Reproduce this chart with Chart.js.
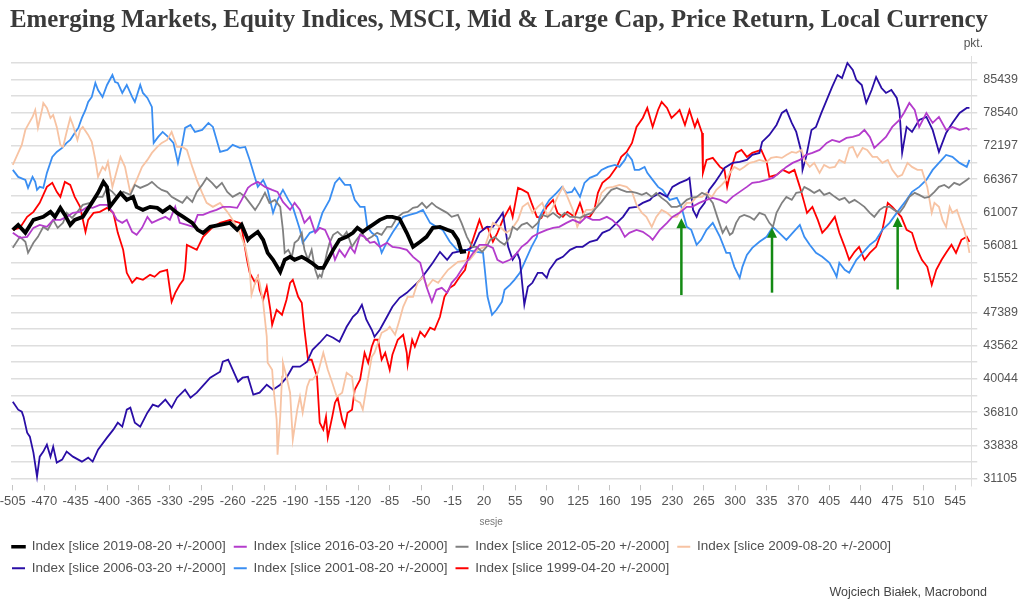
<!DOCTYPE html>
<html>
<head>
<meta charset="utf-8">
<script src="https://cdn.jsdelivr.net/npm/chart.js@4.4.1/dist/chart.umd.min.js"></script>
<style>
  html, body { margin: 0; padding: 0; background: #fff; }
  #wrap { width: 1024px; height: 611px; }
</style>
</head>
<body>
<div id="wrap"><canvas id="chart" width="1024" height="611"></canvas></div>
<script>
// sessions relative to the slice date, index level (pkt.)
const slice2019 = [[-505,58377],[-499,59119],[-491,57937],[-482,59871],[-471,60328],[-463,61095],[-458,60328],[-452,61715],[-447,60632],[-441,59119],[-436,59871],[-427,60328],[-417,62500],[-410,64100],[-404,65907],[-400,65080],[-397,61871],[-391,62975],[-385,64100],[-378,62975],[-371,63456],[-367,61871],[-360,61403],[-352,61871],[-344,61715],[-338,61095],[-330,61871],[-322,60940],[-315,60328],[-305,59420],[-299,58377],[-293,57937],[-285,58821],[-274,59119],[-263,59420],[-255,58377],[-250,59119],[-243,56920],[-241,57210],[-232,58084],[-226,56920],[-221,55080],[-215,54114],[-207,52498],[-202,54114],[-196,54527],[-191,54114],[-183,54527],[-177,54114],[-172,53706],[-165,53031],[-159,53031],[-154,54114],[-148,55499],[-141,56920],[-133,57354],[-126,57937],[-121,58674],[-115,58084],[-109,58674],[-104,59119],[-96,59871],[-88,60328],[-82,60328],[-74,60023],[-66,57937],[-59,55922],[-51,56633],[-44,57354],[-37,58674],[-29,58821],[-21,58377],[-15,58084],[-9,56920],[-5,55217],[0,55300]];

const slice2016 = [[-505,57937],[-497,57210],[-489,57354],[-482,58674],[-475,59119],[-467,58821],[-460,59871],[-452,59871],[-445,60328],[-438,60940],[-430,61095],[-422,61871],[-416,61715],[-408,62184],[-400,62184],[-394,61095],[-389,59871],[-383,59420],[-378,59871],[-372,58084],[-367,57644],[-361,58674],[-355,60328],[-350,59420],[-343,59871],[-335,60328],[-330,59871],[-324,61871],[-319,59420],[-311,59119],[-304,58821],[-299,60632],[-293,60632],[-285,61095],[-278,61403],[-271,61871],[-263,61871],[-255,61715],[-250,62975],[-243,64915],[-239,65408],[-232,65907],[-224,65080],[-216,64587],[-210,64262],[-204,62657],[-196,61403],[-191,62500],[-185,61403],[-180,59420],[-174,60328],[-168,57937],[-163,58674],[-157,58377],[-152,56920],[-146,54114],[-141,55499],[-135,54527],[-129,55922],[-124,55080],[-118,57644],[-113,57354],[-107,56491],[-102,56633],[-96,55922],[-88,56491],[-82,55922],[-74,55780],[-66,55499],[-59,54527],[-51,53706],[-44,50544],[-38,48664],[-33,50162],[-27,50416],[-21,49783],[-16,51058],[-10,51838],[-5,52763],[8,55080],[15,56205],[23,56205],[30,55780],[35,54114],[41,53706],[49,54114],[57,55080],[62,55922],[68,56491],[74,57354],[82,57937],[90,58377],[97,58674],[104,58821],[112,59420],[119,59871],[127,59420],[134,60328],[141,59871],[149,59871],[157,60328],[163,59871],[171,58821],[177,57354],[182,57937],[190,58377],[197,58084],[205,57354],[208,56920],[216,58377],[224,59420],[230,60328],[238,60940],[246,61871],[252,61871],[260,62500],[268,62975],[275,63295],[283,62975],[290,62500],[297,63456],[305,64262],[313,65080],[319,65740],[327,65907],[335,66240],[342,66577],[349,67424],[357,68454],[364,69150],[372,69675],[379,70561],[386,70920],[394,71458],[402,72735],[408,73287],[416,72919],[424,73659],[431,73845],[438,74219],[444,75163],[450,73845],[455,71820],[461,72735],[468,73845],[475,75737],[483,77087],[488,78463],[494,80472],[500,79060],[505,75737],[513,78463],[520,76506],[527,77674],[535,75163],[542,75737],[550,75163],[558,75545],[561,75163]];

const slice2012 = [[-505,55780],[-497,57354],[-491,56633],[-488,55080],[-482,56491],[-477,57354],[-471,58821],[-466,58377],[-460,59871],[-455,58674],[-449,59420],[-445,60940],[-439,60175],[-433,61095],[-427,62184],[-419,62500],[-411,63456],[-405,63456],[-400,64915],[-394,64262],[-389,63456],[-382,64262],[-374,63776],[-369,65408],[-363,64915],[-355,65408],[-350,65907],[-344,65080],[-339,64587],[-333,64262],[-328,63456],[-322,62975],[-316,62500],[-311,63456],[-305,62657],[-300,64262],[-294,65408],[-289,66577],[-283,65740],[-278,64915],[-272,65740],[-266,64262],[-260,63456],[-252,64100],[-246,63456],[-241,62500],[-235,61403],[-230,62500],[-224,64100],[-219,62500],[-213,62975],[-207,61871],[-204,58377],[-202,55080],[-198,55499],[-194,54527],[-191,56491],[-187,56920],[-183,57937],[-180,55499],[-176,54114],[-172,55499],[-168,52763],[-165,51707],[-163,52101],[-161,51838],[-159,52763],[-155,55080],[-152,56491],[-148,57644],[-143,58084],[-137,57354],[-133,58084],[-127,55922],[-122,56920],[-116,57937],[-111,56920],[-105,57354],[-99,57937],[-94,57644],[-88,58821],[-83,58821],[-77,60175],[-70,60940],[-65,61095],[-59,61715],[-54,61871],[-49,62500],[-44,61715],[-38,62500],[-33,61871],[-27,61403],[-21,60940],[-16,60328],[-9,60632],[-5,59420],[1,57354],[7,55922],[12,55922],[18,55217],[23,55922],[27,56920],[32,57354],[38,56633],[43,56205],[49,57354],[52,58821],[57,58377],[62,59119],[68,59420],[74,58674],[80,59420],[85,60632],[91,60328],[97,60940],[104,60175],[110,60940],[116,60328],[121,60328],[127,60175],[134,60632],[140,60940],[146,61871],[151,62657],[157,63776],[162,64587],[168,64915],[173,64587],[179,64262],[185,64262],[190,64100],[196,63776],[201,64100],[207,63456],[212,64100],[218,63295],[224,62657],[229,61871],[235,61871],[240,62184],[246,62975],[251,63295],[257,63456],[263,64100],[268,63776],[275,62500],[280,60328],[286,57937],[290,58821],[294,57644],[297,57937],[301,59420],[305,60328],[310,60632],[316,60328],[321,59871],[327,60940],[333,60632],[338,59420],[342,58821],[346,60940],[352,62500],[357,63456],[363,62975],[368,64100],[374,64262],[377,65080],[383,64587],[388,64100],[394,64587],[399,63776],[405,64100],[411,63456],[416,62975],[422,63295],[427,62500],[433,62975],[438,62500],[444,61871],[450,60940],[455,60328],[461,61403],[466,61871],[472,61871],[477,61403],[483,60940],[488,61871],[494,63456],[500,64100],[505,63776],[511,63295],[516,63456],[522,64262],[527,65080],[533,65408],[538,64915],[544,65740],[550,65408],[558,66240],[561,66577]];

const slice2009 = [[-505,68800],[-499,70920],[-495,72367],[-491,75163],[-488,76119],[-483,77674],[-480,79060],[-477,75545],[-472,79460],[-471,80472],[-467,79460],[-463,77479],[-460,78067],[-456,75737],[-452,72367],[-449,72000],[-445,74785],[-441,77479],[-438,76119],[-433,73287],[-430,75163],[-427,75737],[-421,74219],[-417,72919],[-413,69675],[-410,66744],[-405,68454],[-402,67936],[-399,69325],[-394,65080],[-391,66744],[-385,70206],[-380,68454],[-374,64100],[-367,66240],[-361,68454],[-355,69675],[-350,70920],[-344,72000],[-339,72735],[-333,73287],[-328,74785],[-322,72000],[-316,72000],[-311,71458],[-305,68454],[-300,66240],[-294,64100],[-289,62500],[-282,61871],[-274,62500],[-266,61095],[-260,59871],[-252,57937],[-246,55922],[-243,54114],[-241,52763],[-239,49532],[-235,51058],[-232,51838],[-230,51058],[-226,48541],[-222,44545],[-221,41711],[-216,40979],[-215,39655],[-211,36114],[-210,33057],[-207,36390],[-205,40262],[-204,41711],[-200,40262],[-196,38665],[-193,34334],[-188,37039],[-185,38276],[-182,36760],[-177,39256],[-174,39957],[-171,39957],[-165,40670],[-159,42778],[-154,40979],[-149,39655],[-144,38276],[-138,38665],[-133,40670],[-127,40260],[-124,37987],[-118,37700],[-115,37039],[-110,39655],[-105,42348],[-102,42778],[-98,43874],[-94,44997],[-88,45339],[-85,45685],[-79,44770],[-74,46500],[-70,48053],[-65,49282],[-59,49282],[-54,51058],[-48,51838],[-43,50544],[-37,51446],[-31,51058],[-26,51838],[-20,52763],[-9,53840],[4,54114],[13,55499],[21,55922],[30,59420],[38,58821],[45,57937],[52,58674],[58,59871],[63,61871],[69,62500],[74,60940],[80,61871],[85,62500],[91,60328],[97,61871],[102,63456],[108,65080],[113,63456],[119,61403],[124,58821],[129,60328],[134,61403],[140,61403],[146,61871],[151,64100],[157,64915],[164,65080],[171,65408],[179,65080],[185,64262],[190,62184],[196,60940],[201,60328],[207,58821],[212,60328],[218,61403],[224,60940],[229,60328],[235,60328],[240,61403],[246,62500],[251,62500],[257,63456],[263,63456],[268,64100],[274,63456],[279,64587],[285,65408],[290,66240],[294,67424],[299,68454],[305,67936],[310,68454],[316,69150],[321,69325],[327,69675],[335,69325],[340,70028],[346,70206],[352,70028],[357,70561],[363,71100],[368,70920],[374,71458],[377,69675],[383,68454],[388,69150],[394,67424],[399,68800],[405,68280],[411,68454],[416,69675],[422,69150],[427,71820],[431,72000],[436,70206],[442,71820],[447,71458],[453,70206],[458,70206],[464,69150],[470,69675],[475,67936],[481,66744],[486,67083],[492,69150],[497,68454],[503,67936],[508,67936],[514,65080],[519,60940],[522,62500],[527,61871],[531,59871],[535,58821],[539,61871],[542,60940],[547,61403],[552,59420],[555,58377],[559,56491],[561,55080]];

const slice2006 = [[-505,37795],[-499,37039],[-495,36853],[-493,36390],[-489,34947],[-486,34596],[-482,33225],[-478,31270],[-475,32891],[-471,33309],[-467,33903],[-463,32891],[-460,33733],[-456,32396],[-450,32642],[-445,33309],[-438,32891],[-428,32478],[-421,32808],[-416,32478],[-410,33477],[-400,34509],[-393,35213],[-388,35842],[-383,35480],[-378,37039],[-374,37226],[-369,35842],[-363,35480],[-355,36760],[-349,37510],[-343,37320],[-335,37987],[-328,37226],[-322,38180],[-313,38959],[-307,38180],[-300,38665],[-294,39256],[-285,40160],[-274,40773],[-271,41817],[-265,42028],[-260,40979],[-254,39756],[-249,40160],[-243,40262],[-237,38470],[-230,38665],[-222,39455],[-215,38959],[-207,39455],[-200,40160],[-193,41292],[-185,41292],[-177,41817],[-171,43104],[-163,43874],[-155,44770],[-148,44432],[-141,43985],[-133,45685],[-126,46853],[-121,47330],[-116,48296],[-111,46500],[-105,45339],[-102,44545],[-96,45339],[-88,46853],[-82,48053],[-74,49158],[-66,49783],[-59,50544],[-51,51446],[-37,53706],[-29,55217],[-21,54114],[-15,55080],[1,55499],[8,55922],[15,57937],[23,58821],[30,58821],[38,60328],[41,60940],[47,55922],[52,54114],[57,55080],[60,54114],[65,48296],[69,50544],[74,51058],[80,52365],[85,52365],[90,51707],[93,52763],[101,54114],[108,54527],[116,55499],[123,55922],[130,55922],[138,56633],[146,56920],[152,57937],[160,58377],[168,59420],[175,60328],[182,61715],[190,61871],[197,62500],[205,62975],[208,63456],[216,64100],[224,63456],[230,65080],[238,65740],[246,66240],[249,66577],[253,61403],[257,60328],[260,61403],[266,62500],[271,64587],[277,65740],[283,67083],[288,68280],[297,69150],[305,69325],[313,69675],[319,70561],[327,70920],[330,72919],[338,74219],[346,76119],[352,78463],[357,79060],[363,76506],[368,74785],[374,70920],[375,67936],[379,70206],[385,75163],[390,75737],[396,78463],[402,81084],[408,83794],[414,86373],[419,85720],[425,89035],[431,87472],[435,85288],[441,84217],[446,80472],[452,83159],[457,85936],[463,83580],[468,82532],[474,83159],[480,81496],[483,79060],[486,70920],[491,75737],[497,74785],[505,77087],[513,77674],[520,75163],[527,71100],[535,74597],[542,76506],[550,78463],[558,79460],[561,79460]];

const slice2001 = [[-505,67936],[-499,66744],[-491,66240],[-488,64915],[-483,66744],[-480,65907],[-478,64587],[-475,65080],[-471,64915],[-467,67424],[-461,70206],[-456,71100],[-450,71820],[-445,72735],[-441,73287],[-436,74597],[-432,75545],[-428,77479],[-424,79060],[-421,80677],[-417,81702],[-413,84645],[-410,83159],[-405,81702],[-400,84217],[-394,86373],[-391,84860],[-388,84645],[-383,82532],[-378,84217],[-372,81702],[-369,80677],[-363,84217],[-360,82532],[-355,81496],[-350,79664],[-348,72735],[-343,73845],[-338,74785],[-332,73845],[-326,72735],[-321,69150],[-316,72735],[-313,75545],[-307,76119],[-302,74785],[-294,75163],[-287,76506],[-282,75737],[-274,71100],[-266,71458],[-260,72367],[-252,71820],[-246,72000],[-241,69675],[-235,66577],[-232,65080],[-226,66240],[-221,64587],[-215,60940],[-210,62975],[-204,64587],[-198,62975],[-193,61871],[-185,58377],[-182,56491],[-174,57937],[-166,58377],[-160,60940],[-152,62975],[-146,65740],[-141,66577],[-135,65408],[-129,65408],[-124,62975],[-118,61871],[-113,61871],[-110,58821],[-105,57937],[-99,57354],[-94,55080],[-88,56633],[-82,57937],[-70,60328],[-63,60632],[-55,60940],[-48,61403],[-40,59420],[-33,58821],[-26,58377],[-18,56633],[-10,55499],[1,55499],[12,55217],[19,55080],[21,52763],[24,49282],[29,47091],[34,47690],[40,48664],[43,50162],[49,50800],[54,51446],[60,52365],[68,54527],[73,55922],[79,57354],[82,60328],[88,61871],[93,62975],[101,64100],[107,65080],[112,64100],[118,64262],[121,64915],[127,63456],[132,65740],[138,66577],[146,67083],[151,67936],[158,68454],[166,68800],[171,68454],[177,69675],[180,70740],[185,69675],[188,67936],[193,67936],[199,68454],[202,67424],[208,66240],[214,65080],[219,64587],[227,62975],[235,63295],[240,61871],[246,58821],[251,58377],[257,56205],[262,56920],[268,58377],[275,59420],[283,57354],[290,55080],[294,55080],[299,53165],[305,51707],[308,53165],[313,54802],[319,55780],[327,56633],[335,57354],[342,58821],[349,57937],[357,56920],[364,57937],[372,59119],[377,57354],[383,56205],[390,55080],[397,54527],[405,53706],[411,52365],[413,51838],[416,53706],[422,52763],[427,52365],[435,54114],[442,55080],[450,56205],[457,56920],[464,58377],[472,59420],[480,60940],[485,61871],[491,62975],[497,64262],[505,65080],[513,66240],[520,67936],[527,69150],[535,70561],[542,70206],[550,69150],[558,68454],[561,69675]];

const slice1999 = [[-505,58377],[-497,58674],[-489,60328],[-482,61095],[-475,62500],[-467,65080],[-461,65740],[-456,64262],[-452,63456],[-447,65907],[-441,65408],[-436,63456],[-430,61871],[-424,58084],[-421,59871],[-415,60940],[-408,61095],[-400,61715],[-393,60940],[-388,57937],[-382,55499],[-378,52365],[-372,51058],[-367,51707],[-360,51446],[-352,52101],[-347,51838],[-341,52498],[-333,52763],[-328,48664],[-324,49783],[-319,50800],[-315,51446],[-313,52763],[-311,56205],[-300,55499],[-293,57354],[-282,58821],[-274,59420],[-263,59871],[-252,59420],[-249,57937],[-244,54114],[-241,52365],[-235,51058],[-232,51838],[-230,50162],[-226,48910],[-222,50544],[-218,47690],[-216,45916],[-211,47690],[-205,47091],[-200,48910],[-196,51058],[-193,51446],[-187,49282],[-183,48541],[-180,45339],[-176,42028],[-172,42028],[-166,40260],[-163,35842],[-159,35213],[-156,36390],[-154,34509],[-149,36390],[-146,37700],[-143,38180],[-138,36114],[-135,35480],[-132,36760],[-127,37039],[-124,38959],[-118,39957],[-113,42778],[-109,41711],[-105,43432],[-102,44208],[-98,44208],[-94,42028],[-90,42778],[-85,40979],[-82,42563],[-76,44208],[-70,44770],[-66,42778],[-65,41501],[-60,44208],[-57,43432],[-51,45110],[-46,44545],[-40,45570],[-35,45339],[-29,46853],[-24,49282],[-18,50416],[-13,50800],[-7,51838],[-1,52763],[4,55499],[15,59871],[19,58377],[24,58821],[30,56633],[35,57937],[41,59871],[49,61871],[52,60328],[58,64915],[63,64587],[69,64100],[73,62500],[79,60328],[84,60175],[90,61871],[97,62975],[102,60940],[108,60328],[113,61095],[121,60328],[127,62500],[132,60328],[138,60328],[143,61403],[147,64100],[152,65740],[160,66744],[168,68454],[173,70206],[179,71100],[185,72735],[190,75737],[197,77479],[202,79460],[208,75737],[214,79060],[218,80677],[224,79460],[229,77479],[235,78463],[238,79060],[244,76119],[249,79060],[255,75737],[258,77087],[263,74597],[264,67424],[268,69675],[275,70028],[283,68454],[288,67936],[291,65080],[296,68454],[301,70920],[307,71458],[313,70206],[319,70920],[329,71458],[335,69325],[338,66744],[346,67083],[353,67936],[360,67424],[366,67936],[372,65080],[377,62500],[380,60940],[386,61871],[392,59871],[397,57937],[403,58821],[411,60328],[416,57937],[422,55922],[427,54114],[433,55217],[438,55922],[444,54114],[450,55080],[457,55922],[464,58377],[470,62500],[475,61871],[485,60328],[491,58377],[497,57937],[503,55499],[508,54114],[514,53165],[519,50800],[524,52763],[530,54114],[535,55080],[541,56205],[546,55080],[552,56920],[558,57354],[561,56633]];

const seriesNames = [
  'Index [slice 2019-08-20 +/-2000]',
  'Index [slice 2016-03-20 +/-2000]',
  'Index [slice 2012-05-20 +/-2000]',
  'Index [slice 2009-08-20 +/-2000]',
  'Index [slice 2006-03-20 +/-2000]',
  'Index [slice 2001-08-20 +/-2000]',
  'Index [slice 1999-04-20 +/-2000]'
];
const seriesData = [slice2019, slice2016, slice2012, slice2009, slice2006, slice2001, slice1999];
const seriesColors = ['#000000', '#b43ccc', '#808080', '#f7c3a3', '#2a0ea6', '#3a8ef2', '#ff0000'];

const xTicks = [-505,-470,-435,-400,-365,-330,-295,-260,-225,-190,-155,-120,-85,-50,-15,20,55,90,125,160,195,230,265,300,335,370,405,440,475,510,545];
const yTicks = [31105,33838,36810,40044,43562,47389,51552,56081,61007,66367,72197,78540,85439];

// green arrows: session, start level, tip level
const arrowSessions = [240, 341, 481];
const arrowFrom = [49500, 49800, 50200];
const arrowTo = [60100, 58700, 60300];

const titleText = 'Emerging Markets, Equity Indices, MSCI, Mid & Large Cap, Price Return, Local Currency';
const sans = '"Liberation Sans", Arial, sans-serif';

// labelled levels plus one unlabelled gridline between each pair
function yGridValues() {
  let out = [];
  for (let i = 0; i < yTicks.length; i++) {
    out.push(yTicks[i]);
    let next = i < yTicks.length - 1 ? yTicks[i + 1] : yTicks[i] * yTicks[i] / yTicks[i - 1];
    out.push(Math.sqrt(yTicks[i] * next));
  }
  return out;
}

const decor = {
  id: 'decor',
  afterDatasetsDraw(chart) {
    const ctx = chart.ctx;
    const xs = chart.scales.x, ys = chart.scales.y;
    ctx.save();
    ctx.strokeStyle = '#138a13';
    ctx.fillStyle = '#138a13';
    ctx.lineWidth = 2.5;
    for (let i = 0; i < arrowSessions.length; i++) {
      const px = xs.getPixelForValue(arrowSessions[i]);
      const yb = ys.getPixelForValue(arrowFrom[i]);
      const yt = ys.getPixelForValue(arrowTo[i]);
      ctx.beginPath();
      ctx.moveTo(px, yb);
      ctx.lineTo(px, yt + 8);
      ctx.stroke();
      ctx.beginPath();
      ctx.moveTo(px, yt);
      ctx.lineTo(px - 5, yt + 10);
      ctx.lineTo(px + 5, yt + 10);
      ctx.closePath();
      ctx.fill();
    }
    ctx.restore();
  },
  afterDraw(chart) {
    const ctx = chart.ctx;
    ctx.save();
    // title, squeezed to the width it has in the original
    ctx.font = 'bold 26px "Liberation Serif", "DejaVu Serif", serif';
    ctx.fillStyle = '#3a3a3a';
    ctx.textBaseline = 'alphabetic';
    ctx.textAlign = 'left';
    const w = ctx.measureText(titleText).width;
    ctx.save();
    ctx.translate(10, 27);
    ctx.scale(978 / w, 1);
    ctx.fillText(titleText, 0, 0);
    ctx.restore();

    ctx.font = '12px ' + sans;
    ctx.fillStyle = '#555';
    ctx.textAlign = 'right';
    ctx.fillText('pkt.', 983, 47);

    ctx.font = '12.5px ' + sans;
    ctx.fillStyle = '#444';
    ctx.fillText('Wojciech Białek, Macrobond', 987, 596);
    ctx.restore();
  }
};

const ctx = document.getElementById('chart').getContext('2d');
new Chart(ctx, {
  type: 'line',
  data: {
    datasets: seriesNames.map((name, i) => ({
      label: name,
      data: seriesData[i].map(p => ({ x: p[0], y: p[1] })),
      borderColor: seriesColors[i],
      backgroundColor: seriesColors[i],
      borderWidth: i === 0 ? 3.8 : 1.8,
      pointRadius: 0,
      tension: 0,
      fill: false
    }))
  },
  options: {
    responsive: false,
    animation: false,
    events: [],
    layout: { padding: { top: 56, left: 4, right: 0, bottom: 26 } },
    plugins: {
      tooltip: { enabled: false },
      title: { display: false },
      legend: {
        position: 'bottom',
        align: 'start',
        labels: {
          boxWidth: 13,
          boxHeight: 2,
          padding: 8,
          color: '#505050',
          font: { size: 13.5, family: sans },
          generateLabels: chart => chart.data.datasets.map((d, i) => ({
            text: d.label,
            fillStyle: d.borderColor,
            strokeStyle: d.borderColor,
            lineWidth: i === 0 ? 1.5 : 0,
            fontColor: '#505050',
            hidden: false,
            datasetIndex: i
          }))
        }
      }
    },
    scales: {
      x: {
        type: 'linear',
        min: -507,
        max: 563,
        afterBuildTicks: axis => { axis.ticks = xTicks.map(v => ({ value: v })); },
        afterFit: axis => { axis.paddingLeft = 11; axis.paddingRight = 0; },
        grid: { drawOnChartArea: false, drawTicks: true, tickLength: 5, color: '#c4c4c4' },
        border: { display: false },
        ticks: {
          autoSkip: false,
          maxRotation: 0,
          padding: 3,
          color: '#555',
          font: { size: 13, family: sans },
          callback: v => String(v)
        },
        title: {
          display: true,
          text: 'sesje',
          color: '#777',
          font: { size: 10, family: sans },
          padding: { top: 4, bottom: 4 }
        }
      },
      y: {
        type: 'logarithmic',
        position: 'right',
        min: 30583,
        max: 90623,
        afterBuildTicks: axis => {
          axis.ticks = yGridValues().filter(v => v >= axis.min && v <= axis.max).map(v => ({ value: v }));
        },
        grid: { color: '#dedede', lineWidth: 1.5, drawTicks: true, tickLength: 6 },
        border: { display: true, color: '#dedede', width: 1 },
        ticks: {
          autoSkip: false,
          padding: 6,
          color: '#555',
          font: { size: 12.5, family: sans },
          callback: v => yTicks.includes(v) ? String(v) : ''
        }
      }
    }
  },
  plugins: [decor]
});
</script>
</body>
</html>
